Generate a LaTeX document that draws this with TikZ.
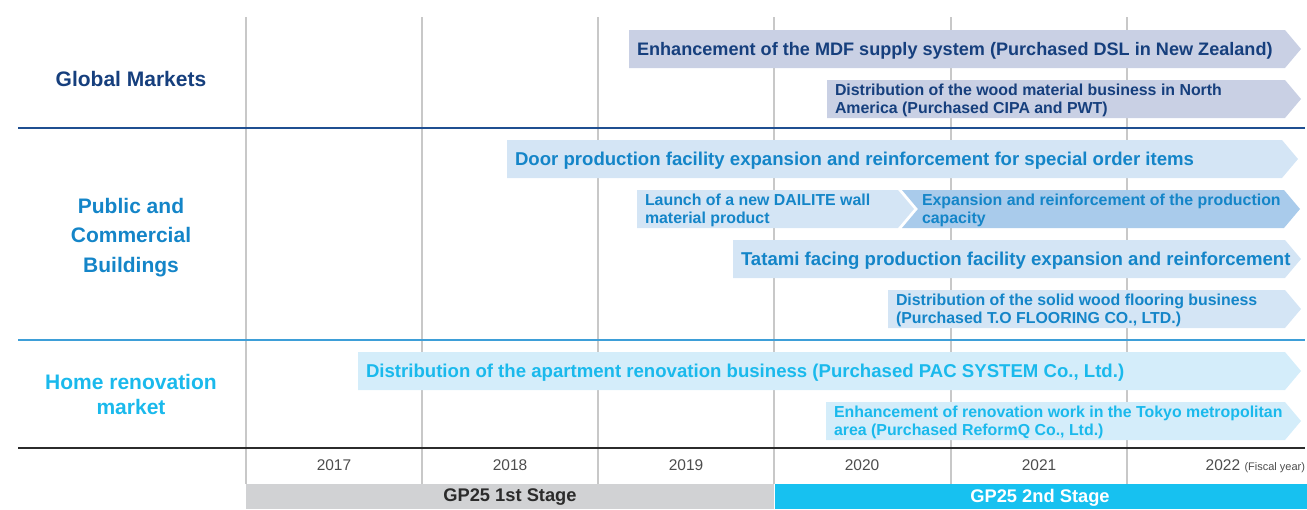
\documentclass[tikz,border=0pt]{standalone}
\usepackage{fontspec}
\setmainfont{Liberation Sans}
\definecolor{navy}{HTML}{163F7D}
\definecolor{navyline}{HTML}{1F4F91}
\definecolor{midblue}{HTML}{1485C8}
\definecolor{midline}{HTML}{3E9FD8}
\definecolor{cyantext}{HTML}{1AB9EC}
\definecolor{barglobal}{HTML}{C9D0E4}
\definecolor{barpublic}{HTML}{D4E5F5}
\definecolor{barpublicdark}{HTML}{A9CBEB}
\definecolor{barhome}{HTML}{D4EDFA}
\definecolor{gridgray}{HTML}{C8C8C8}
\definecolor{stagegray}{HTML}{D1D2D4}
\definecolor{stagecyan}{HTML}{17C1F0}
\definecolor{yeartext}{HTML}{4D4D4D}
\definecolor{darkrule}{HTML}{2B2B2B}

% arrow-shaped bar: name, left x, top y, body end x, fill, text style, text
\newcommand\tlbar[7]{%
  \fill[#5] (#2,#3) -- (#4,#3) -- (#4+16,#3+19) -- (#4,#3+38) -- (#2,#3+38) -- cycle;
  \node[#6, anchor=west] (#1) at (#2+8,#3+20.5) {#7};}

\begin{document}
\begin{tikzpicture}[x=1pt,y=-1pt,
  every node/.style={inner sep=0pt, outer sep=0pt},
  onetxt/.style={font=\bfseries\fontsize{18.6}{22}\selectfont},
  twotxt/.style={font=\bfseries\fontsize{15.9}{18.5}\selectfont, align=left},
  cat/.style={font=\bfseries\fontsize{21}{29.5}\selectfont, align=center},
  year/.style={font=\fontsize{15.5}{18}\selectfont, text=yeartext},
  stage/.style={font=\bfseries\fontsize{18.3}{20}\selectfont}]
\useasboundingbox (0,0) rectangle (1307,509);

% year grid
\foreach \gx in {246,422,598,774,951,1127}
  \draw[gridgray, line width=1.1pt] (\gx,17) -- (\gx,484);

% row separators
\draw[navyline, line width=1.5pt] (18,128) -- (1305,128);
\draw[midline, line width=2pt] (18,340) -- (1305,340);
\draw[darkrule, line width=2.2pt] (18,448) -- (1305,448);

% category labels
\node[cat, text=navy] (global) at (131,79) {Global Markets};
\node[cat, text=midblue] (public) at (131,237.5) {Public and\\Commercial\\Buildings};
\node[cat, text=cyantext, font=\bfseries\fontsize{21}{25}\selectfont] (home) at (131,394) {Home renovation\\market};

% Global Markets bars
\tlbar{mdf}{629}{30}{1285}{barglobal}{onetxt, font=\bfseries\fontsize{18.1}{22}\selectfont, text=navy}{Enhancement of the MDF supply system (Purchased DSL in New Zealand)}
\tlbar{wood}{827}{80}{1285}{barglobal}{twotxt, text=navy}{Distribution of the wood material business in North\\America (Purchased CIPA and PWT)}

% Public and Commercial Buildings bars
\tlbar{door}{507}{140}{1282}{barpublic}{onetxt, text=midblue}{Door production facility expansion and reinforcement for special order items}
\tlbar{dailite}{637}{190}{898}{barpublic}{twotxt, text=midblue}{Launch of a new DAILITE wall\\material product}
\fill[barpublicdark] (902,190) -- (1284,190) -- (1300,209) -- (1284,228) -- (902,228) -- (918,209) -- cycle;
\node[twotxt, text=midblue, anchor=west] (capacity) at (922,210.5) {Expansion and reinforcement of the production\\capacity};
\tlbar{tatami}{733}{240}{1285}{barpublic}{onetxt, text=midblue}{Tatami facing production facility expansion and reinforcement}
\tlbar{floor}{888}{290}{1285}{barpublic}{twotxt, text=midblue}{Distribution of the solid wood flooring business\\(Purchased T.O FLOORING CO., LTD.)}

% Home renovation bars
\tlbar{pac}{358}{352}{1285}{barhome}{onetxt, text=cyantext}{Distribution of the apartment renovation business (Purchased PAC SYSTEM Co., Ltd.)}
\tlbar{reform}{826}{402}{1285}{barhome}{twotxt, text=cyantext}{Enhancement of renovation work in the Tokyo metropolitan\\area (Purchased ReformQ Co., Ltd.)}

% fiscal years
\node[year] (y17) at (334,465) {2017};
\node[year] (y18) at (510,465) {2018};
\node[year] (y19) at (686,465) {2019};
\node[year] (y20) at (862,465) {2020};
\node[year] (y21) at (1039,465) {2021};
\node[year, anchor=base east] (y22) at (1305,470.5) {2022 {\fontsize{11}{13}\selectfont(Fiscal year)}};

% plan stages
\fill[stagegray] (246,484) rectangle (774,509);
\fill[stagecyan] (775,484) rectangle (1307,509);
\node[stage, text=darkrule] (st1) at (510,497.5) {GP25 1st Stage};
\node[stage, text=white] (st2) at (1040,497.5) {GP25 2nd Stage};
\end{tikzpicture}
\end{document}
